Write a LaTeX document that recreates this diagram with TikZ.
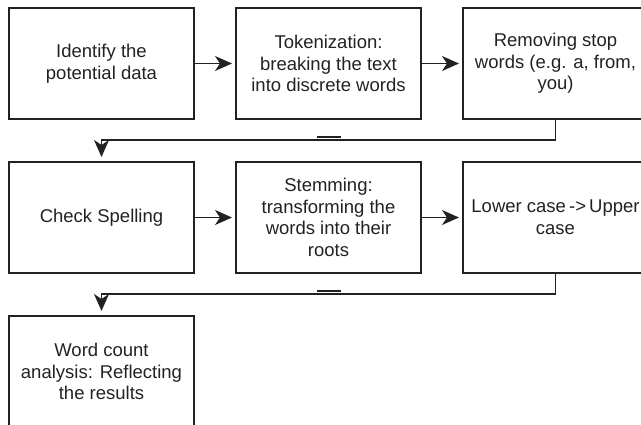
\documentclass[tikz,border=0pt]{standalone}
\usepackage{fontspec}
\setmainfont{Liberation Sans}
\usepackage{xcolor}
\usetikzlibrary{positioning, arrows.meta}

\definecolor{ink}{HTML}{222222}

\begin{document}
\begin{tikzpicture}
[x=1pt, y=-1pt,
box-a/.style={rectangle, draw=ink, line width=1.8pt, minimum width=185pt, minimum height=111pt,
  inner sep=0pt, outer sep=0pt, align=center, text=ink, font=\fontsize{18.5}{21.7}\selectfont},
link-a/.style={draw=ink, line width=1.1pt, -{Stealth[length=17pt, width=15pt, inset=5pt]}},
tick-a/.style={draw=ink, line width=1.3pt},]
\useasboundingbox (0,0) rectangle (641,424);
% first row
\node (stage-1) [box-a] at (101.5,63.5) {Identify the\\potential data};
\node (stage-2) [box-a, right = 42pt of stage-1] {Tokenization:\\breaking the text\\into discrete words};
\node (stage-3) [box-a, right = 42pt of stage-2] {Removing stop\\words (e.g. a, from,\\you)};
% second row
\node (stage-4) [box-a, below = 43pt of stage-1] {Check Spelling};
\node (stage-5) [box-a, right = 42pt of stage-4] {Stemming:\\transforming the\\words into their\\roots};
\node (stage-6) [box-a, right = 42pt of stage-5] {Lower case\,->\,Upper\\case};
% last row
\node (stage-7) [box-a, below = 43pt of stage-4] {Word count\\analysis: Reflecting\\the results};
%\draw [dotted, step=10] (0,0) grid (641,424);
\draw [link-a, shorten >=4pt] (stage-1) -- (stage-2);
\draw [link-a, shorten >=4pt] (stage-2) -- (stage-3);
\draw [link-a, shorten >=5pt] (stage-3.south) -- ++(0,21) -| (stage-4.north);
\draw [link-a, shorten >=4pt] (stage-4) -- (stage-5);
\draw [link-a, shorten >=4pt] (stage-5) -- (stage-6);
\draw [link-a, shorten >=5pt] (stage-6.south) -- ++(0,21) -| (stage-7.north);
\draw [tick-a] (317,137) -- (341,137);
\draw [tick-a] (317,291) -- (341,291);
\end{tikzpicture}
\end{document}
